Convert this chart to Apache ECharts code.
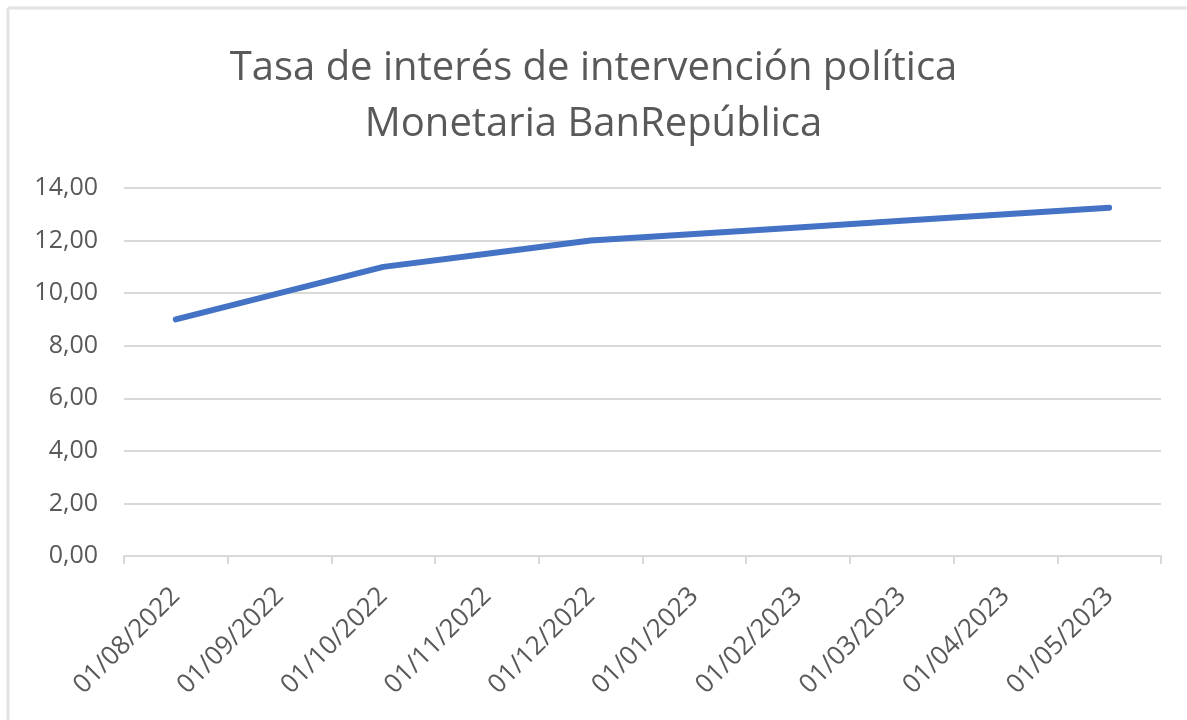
<!DOCTYPE html>
<html>
<head>
<meta charset="utf-8">
<script src="https://cdn.jsdelivr.net/npm/echarts@6/dist/echarts.min.js"></script>
<style>
  html, body { margin: 0; padding: 0; background: #fff; }
  #chart { width: 1187px; height: 720px; }
</style>
</head>
<body>
<div id="chart"></div>
<script>
// data
var fechas = ['01/08/2022', '01/09/2022', '01/10/2022', '01/11/2022', '01/12/2022',
              '01/01/2023', '01/02/2023', '01/03/2023', '01/04/2023', '01/05/2023'];
var tasa = [9.00, 10.00, 11.00, 11.50, 12.00, 12.25, 12.50, 12.75, 13.00, 13.25];
var titulo = 'Tasa de interés de intervención política\nMonetaria BanRepública';

var chartDom = document.getElementById('chart');
var myChart = echarts.init(chartDom);
var gris = '#595959';
var option = {
  animation: false,
  textStyle: { fontFamily: 'Open Sans' },
  title: {
    text: titulo,
    left: 'center',
    top: 36,
    textStyle: {
      color: gris,
      fontSize: 40,
      fontWeight: 'normal',
      lineHeight: 56,
      fontFamily: 'Open Sans'
    }
  },
  graphic: [
    { type: 'line', shape: { x1: 8, y1: 8, x2: 1187, y2: 8 }, style: { stroke: '#e3e3e3', lineWidth: 3 } },
    { type: 'line', shape: { x1: 8, y1: 8, x2: 8, y2: 720 }, style: { stroke: '#e3e3e3', lineWidth: 3 } }
  ],
  grid: { left: 124, right: 26, top: 188, bottom: 164 },
  xAxis: {
    type: 'category',
    data: fechas,
    boundaryGap: true,
    axisLine: { lineStyle: { color: '#d9d9d9', width: 2 } },
    axisTick: { show: true, length: 8, lineStyle: { color: '#d9d9d9', width: 2 } },
    axisLabel: {
      rotate: 45,
      interval: 0,
      margin: 36,
      color: gris,
      fontSize: 26,
      fontFamily: 'Open Sans'
    }
  },
  yAxis: {
    type: 'value',
    min: 0,
    max: 14,
    interval: 2,
    axisLine: { show: false },
    axisTick: { show: false },
    splitLine: { lineStyle: { color: '#d9d9d9', width: 2 } },
    axisLabel: {
      color: gris,
      fontSize: 25,
      margin: 26,
      fontFamily: 'Open Sans',
      formatter: function (v) { return v.toFixed(2).replace('.', ','); }
    }
  },
  series: [{
    name: 'Tasa',
    type: 'line',
    data: tasa,
    showSymbol: false,
    symbol: 'none',
    lineStyle: { color: '#4472C4', width: 6, cap: 'round', join: 'round' }
  }]
};
myChart.setOption(option);
</script>
</body>
</html>
